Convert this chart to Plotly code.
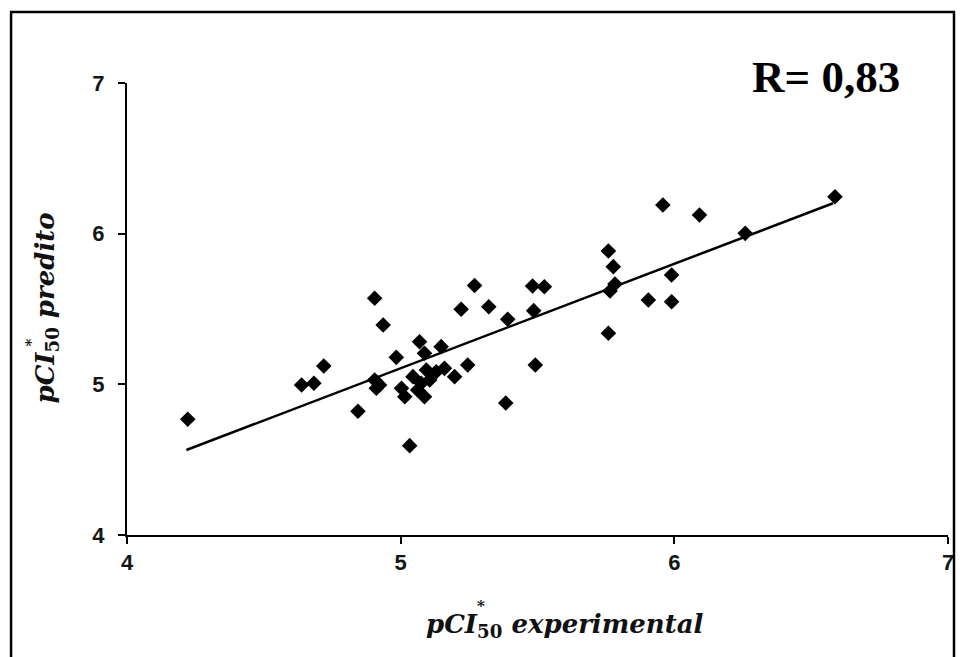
import plotly.graph_objects as go

# Experimental vs predicted pCI50 values
pci_experimental = [4.222, 4.638, 4.683, 4.719, 4.844, 4.905, 4.936, 4.905, 4.923, 4.911,
                    4.984, 5.003, 5.015, 5.033, 5.045, 5.069, 5.087, 5.094, 5.106, 5.075,
                    5.087, 5.062, 5.130, 5.148, 5.160, 5.197, 5.245, 5.221, 5.270, 5.322,
                    5.391, 5.384, 5.482, 5.525, 5.486, 5.492, 5.759, 5.777, 5.765, 5.783,
                    5.759, 5.905, 5.990, 5.990, 5.958, 6.092, 6.259, 6.587]
pci_predito = [4.768, 4.996, 5.007, 5.122, 4.821, 5.571, 5.394, 5.029, 4.996, 4.974,
               5.179, 4.974, 4.918, 4.593, 5.051, 5.283, 5.206, 5.095, 5.029, 5.007,
               4.918, 4.962, 5.084, 5.250, 5.106, 5.051, 5.128, 5.498, 5.656, 5.515,
               5.432, 4.876, 5.653, 5.648, 5.489, 5.128, 5.885, 5.781, 5.619, 5.666,
               5.339, 5.560, 5.726, 5.548, 6.190, 6.124, 6.002, 6.245]

# Regression line end points
trend_x = [4.217, 6.58]
trend_y = [4.564, 6.202]

tick_vals = [4, 5, 6, 7]
tick_text = ["4", "5", "6", "7"]
r_label = "R= 0,83"

W, H = 960, 657
L, R, T, B = 126.5, 12, 83, 657 - 535
pw, ph = W - L - R, H - T - B


def px(xp):
    return (xp - L) / pw


def py(yp):
    return (H - B - yp) / ph


fig = go.Figure()
fig.add_trace(go.Scatter(x=trend_x, y=trend_y, mode="lines",
                         line=dict(color="black", width=2.5), showlegend=False,
                         hoverinfo="skip"))
fig.add_trace(go.Scatter(x=pci_experimental, y=pci_predito, mode="markers",
                         marker=dict(symbol="diamond", size=12, color="black",
                                     line=dict(width=0)),
                         showlegend=False))

axis_common = dict(range=[4, 7], tickvals=tick_vals, ticktext=tick_text,
                   showgrid=False, zeroline=False, showline=True,
                   linecolor="black", linewidth=2, ticks="outside", ticklen=7,
                   tickwidth=2, tickcolor="black",
                   tickfont=dict(family="Liberation Sans, Arial", size=22,
                                 color="#151515", weight="bold"))

fig.update_xaxes(ticklabelstandoff=0, **axis_common)
fig.update_yaxes(ticklabelstandoff=9, **axis_common)

tf = "DejaVu Serif, serif"
title_font = dict(family=tf, size=26, color="#111111")
star_font = dict(family=tf, size=15, color="#111111")

fig.update_layout(
    width=W, height=H,
    margin=dict(l=L, r=R, t=T, b=B, autoexpand=False),
    paper_bgcolor="white", plot_bgcolor="white",
    annotations=[
        dict(text="<b><i>pCI</i><sub>50</sub><i> experimental</i></b>", xref="paper",
             yref="paper", x=px(565), y=py(625), xanchor="center", yanchor="middle",
             showarrow=False, font=title_font),
        dict(text="<b><i>pCI</i><sub>50</sub><i> predito</i></b>", xref="paper",
             yref="paper", x=px(45), y=py(308), xanchor="center", yanchor="middle",
             textangle=-90, showarrow=False, font=title_font),
        dict(text="<b>*</b>", xref="paper", yref="paper", x=px(481), y=py(606),
             xanchor="center", yanchor="middle", showarrow=False, font=star_font),
        dict(text="<b>*</b>", xref="paper", yref="paper", x=px(30), y=py(343),
             xanchor="center", yanchor="middle", showarrow=False, textangle=-90,
             font=star_font),
        dict(text="<b>" + r_label + "</b>", xref="paper", yref="paper",
             x=px(826), y=py(77), xanchor="center", yanchor="middle",
             showarrow=False,
             font=dict(family="Liberation Serif, Times New Roman, serif", size=45,
                       color="black")),
    ],
    shapes=[
        dict(type="rect", xref="paper", yref="paper",
             x0=px(10.5), x1=px(954), y0=py(690), y1=py(12),
             line=dict(color="black", width=2.5), fillcolor="rgba(0,0,0,0)",
             layer="above"),
    ],
)

fig.write_html(
    "out.html",
    config={"displayModeBar": False},
    post_script="document.body.style.margin='0';document.body.style.overflow='hidden';",
)
